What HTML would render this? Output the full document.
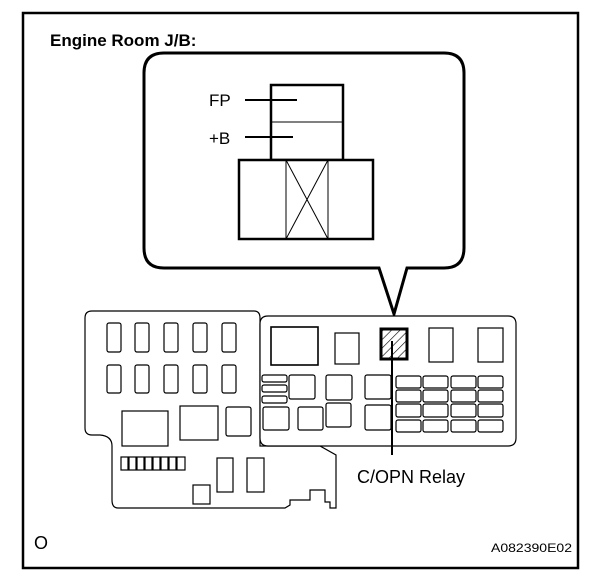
<!DOCTYPE html>
<html><head><style>
html,body{margin:0;padding:0;background:#fff;}
svg{display:block;font-family:"Liberation Sans",Arial,sans-serif;}
</style></head><body>
<svg width="608" height="582" viewBox="0 0 608 582" xmlns="http://www.w3.org/2000/svg">
<defs>
<pattern id="h" patternUnits="userSpaceOnUse" width="6" height="6" patternTransform="rotate(45)">
<line x1="0" y1="0" x2="0" y2="6" stroke="#000" stroke-width="1.2"/>
</pattern>
</defs>
<rect x="23" y="13" width="555" height="555" fill="none" stroke="#000" stroke-width="2.5"/>
<text x="50" y="46" font-size="17" font-weight="bold">Engine Room J/B:</text>

<path d="M164,53 H444 Q464,53 464,73 V248 Q464,268 444,268 H407 L394,314 L379,268 H164 Q144,268 144,248 V73 Q144,53 164,53 Z" fill="#fff" stroke="#000" stroke-width="3"/>
<rect x="271" y="85" width="72" height="75" fill="#fff" stroke="#000" stroke-width="2.5"/>
<line x1="271" y1="122" x2="343" y2="122" stroke="#000" stroke-width="1"/>
<rect x="239" y="160" width="134" height="79" fill="#fff" stroke="#000" stroke-width="2.5"/>
<line x1="286" y1="160" x2="286" y2="239" stroke="#000" stroke-width="1"/>
<line x1="328" y1="160" x2="328" y2="239" stroke="#000" stroke-width="1"/>
<line x1="286" y1="239" x2="328" y2="160" stroke="#000" stroke-width="1"/>
<line x1="286" y1="160" x2="328" y2="239" stroke="#000" stroke-width="1"/>
<text x="209" y="106" font-size="17">FP</text>
<line x1="245" y1="100" x2="297" y2="100" stroke="#000" stroke-width="2"/>
<text x="209" y="144" font-size="17">+B</text>
<line x1="245" y1="137" x2="293" y2="137" stroke="#000" stroke-width="2"/>

<g fill="none" stroke="#000" stroke-width="1.2">
<path d="M92,311 H254 Q260,311 260,318 V446 H320 L336,455 V508 H330 V502 H325 V490 H310 V500 H290 V505 L285,508 H118 Q112,508 112,500 V446 Q112,436 100,435 H92 Q85,435 85,428 V318 Q85,311 92,311 Z"/>
<rect x="107" y="323" width="14" height="29" rx="2"/><rect x="135" y="323" width="14" height="29" rx="2"/><rect x="164" y="323" width="14" height="29" rx="2"/><rect x="193" y="323" width="14" height="29" rx="2"/><rect x="222" y="323" width="14" height="29" rx="2"/>
<rect x="107" y="365" width="14" height="28" rx="2"/><rect x="135" y="365" width="14" height="28" rx="2"/><rect x="164" y="365" width="14" height="28" rx="2"/><rect x="193" y="365" width="14" height="28" rx="2"/><rect x="222" y="365" width="14" height="28" rx="2"/>
<rect x="122" y="411" width="46" height="35"/><rect x="180" y="406" width="38" height="34"/><rect x="226" y="407" width="25" height="29" rx="2"/>
<rect x="121" y="457" width="7" height="13"/><rect x="129" y="457" width="7" height="13"/><rect x="137" y="457" width="7" height="13"/><rect x="145" y="457" width="7" height="13"/><rect x="153" y="457" width="7" height="13"/><rect x="161" y="457" width="7" height="13"/><rect x="169" y="457" width="7" height="13"/><rect x="177" y="457" width="8" height="13"/>
<rect x="217" y="458" width="16" height="34"/><rect x="247" y="458" width="17" height="34"/><rect x="193" y="485" width="17" height="19"/>
</g>
<g fill="#fff" stroke="#000" stroke-width="1.2">
<path d="M268,316 H508 Q516,316 516,324 V438 Q516,446 508,446 H268 Q260,446 260,438 V324 Q260,316 268,316 Z"/>
<rect x="271" y="327" width="47" height="38" stroke-width="1.6"/><rect x="335" y="333" width="24" height="31"/>
<rect x="429" y="328" width="24" height="34"/><rect x="478" y="328" width="25" height="34"/>
<rect x="262" y="375" width="25" height="7" rx="2"/><rect x="262" y="385" width="25" height="7" rx="2"/><rect x="262" y="396" width="25" height="7" rx="2"/>
<rect x="289" y="375" width="26" height="24" rx="2"/><rect x="326" y="375" width="26" height="25" rx="2"/><rect x="365" y="375" width="26" height="24" rx="2"/>
<rect x="263" y="407" width="26" height="23" rx="2"/><rect x="298" y="407" width="25" height="23" rx="2"/><rect x="326" y="403" width="25" height="24" rx="2"/><rect x="365" y="405" width="26" height="25" rx="2"/>
</g>
<g fill="none" stroke="#000" stroke-width="1.2">
<rect x="396" y="376" width="25" height="12" rx="2"/><rect x="423" y="376" width="25" height="12" rx="2"/><rect x="451" y="376" width="25" height="12" rx="2"/><rect x="478" y="376" width="25" height="12" rx="2"/>
<rect x="396" y="390" width="25" height="12" rx="2"/><rect x="423" y="390" width="25" height="12" rx="2"/><rect x="451" y="390" width="25" height="12" rx="2"/><rect x="478" y="390" width="25" height="12" rx="2"/>
<rect x="396" y="404" width="25" height="13" rx="2"/><rect x="423" y="404" width="25" height="13" rx="2"/><rect x="451" y="404" width="25" height="13" rx="2"/><rect x="478" y="404" width="25" height="13" rx="2"/>
<rect x="396" y="420" width="25" height="12" rx="2"/><rect x="423" y="420" width="25" height="12" rx="2"/><rect x="451" y="420" width="25" height="12" rx="2"/><rect x="478" y="420" width="25" height="12" rx="2"/>
</g>
<rect x="381" y="329" width="26" height="30" fill="url(#h)" stroke="#000" stroke-width="3"/>
<line x1="392" y1="341" x2="392" y2="455" stroke="#000" stroke-width="2"/>
<text x="357" y="483" font-size="18">C/OPN Relay</text>
<text x="34" y="549" font-size="18">O</text>
<text x="491" y="552" font-size="12" textLength="81" lengthAdjust="spacingAndGlyphs">A082390E02</text>
</svg>
</body></html>
